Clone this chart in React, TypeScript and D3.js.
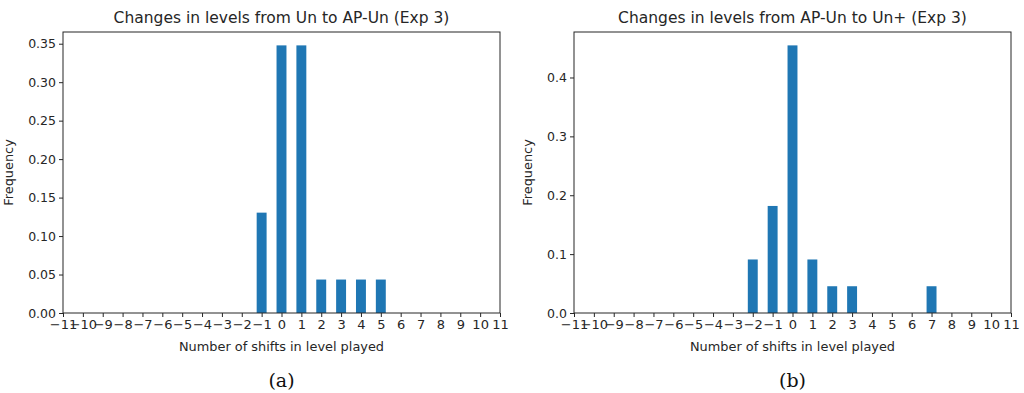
import { useEffect, useRef } from 'react';
import * as d3 from 'd3';

const shifts = d3.range(-11, 12);
const shiftsA = [-1, 0, 1, 2, 3, 4, 5];
const freqA = [3 / 23, 8 / 23, 8 / 23, 1 / 23, 1 / 23, 1 / 23, 1 / 23];
const shiftsB = [-2, -1, 0, 1, 2, 3, 7];
const freqB = [2 / 22, 4 / 22, 10 / 22, 2 / 22, 1 / 22, 1 / 22, 1 / 22];
const yTicksA = [0, 0.05, 0.1, 0.15, 0.2, 0.25, 0.3, 0.35];
const yTicksB = [0, 0.1, 0.2, 0.3, 0.4];

interface PanelSpec {
  title: string;
  caption: string;
  xs: number[];
  ys: number[];
  yTicks: number[];
  yFmt: string;
  left: number;
  ylabX: number;
}

const panels: PanelSpec[] = [
  { title: 'Changes in levels from Un to AP-Un (Exp 3)', caption: '(a)', xs: shiftsA, ys: freqA, yTicks: yTicksA, yFmt: '.2f', left: 63, ylabX: -50 },
  { title: 'Changes in levels from AP-Un to Un+ (Exp 3)', caption: '(b)', xs: shiftsB, ys: freqB, yTicks: yTicksB, yFmt: '.1f', left: 574, ylabX: -42 },
];

const App = () => {
  const ref = useRef<SVGSVGElement>(null);

  useEffect(() => {
    if (!ref.current) return;
    const root = d3.select(ref.current);
    root.selectAll('*').remove();
    const font = '"DejaVu Sans", sans-serif';
    const top = 32;
    const bottom = 313;
    const w = 437;
    const ink = '#262626';

    panels.forEach(p => {
      const g = root.append('g').attr('transform', `translate(${p.left},0)`);
      const x = d3.scaleLinear().domain([-11, 11]).range([0, w]);
      const yMax = (d3.max(p.ys) || 0) * 1.05;
      const y = d3.scaleLinear().domain([0, yMax]).range([bottom, top]);
      const bw = (x(1) - x(0)) * 0.5;

      // bars
      g.selectAll('.bar')
        .data(p.xs.map((s, i) => ({ s, v: p.ys[i] })))
        .enter()
        .append('rect')
        .attr('x', d => x(d.s) - bw / 2)
        .attr('y', d => y(d.v))
        .attr('width', bw)
        .attr('height', d => bottom - y(d.v))
        .attr('fill', '#1f77b4');

      // x axis
      const xa = g.append('g')
        .attr('transform', `translate(0,${bottom})`)
        .call(d3.axisBottom(x).tickValues(shifts).tickSize(4).tickPadding(3)
          .tickFormat(d => (d as number) < 0 ? `\u2212${Math.abs(d as number)}` : `${d}`));
      xa.selectAll('text').style('font-family', font).style('font-size', '13px').attr('fill', ink);
      xa.selectAll('line').attr('stroke', ink);
      xa.select('.domain').remove();

      // y axis
      const ya = g.append('g')
        .call(d3.axisLeft(y).tickValues(p.yTicks).tickSize(4).tickPadding(3).tickFormat(d3.format(p.yFmt)));
      ya.selectAll('text').style('font-family', font).style('font-size', '12.5px').attr('fill', ink);
      ya.selectAll('line').attr('stroke', ink);
      ya.select('.domain').remove();

      // frame
      g.append('rect')
        .attr('x', 0).attr('y', top).attr('width', w).attr('height', bottom - top)
        .attr('fill', 'none').attr('stroke', ink).attr('stroke-width', 1);

      g.append('text')
        .attr('x', w / 2).attr('y', 23)
        .attr('text-anchor', 'middle')
        .style('font-family', font).style('font-size', '15.5px').attr('fill', ink)
        .text(p.title);

      g.append('text')
        .attr('x', w / 2).attr('y', 351)
        .attr('text-anchor', 'middle')
        .style('font-family', font).style('font-size', '12.9px').attr('fill', ink)
        .text('Number of shifts in level played');

      g.append('text')
        .attr('transform', `translate(${p.ylabX},${(top + bottom) / 2}) rotate(-90)`)
        .attr('text-anchor', 'middle')
        .style('font-family', font).style('font-size', '12.9px').attr('fill', ink)
        .text('Frequency');

      g.append('text')
        .attr('x', w / 2).attr('y', 387)
        .attr('text-anchor', 'middle')
        .style('font-family', '"DejaVu Serif", "Liberation Serif", serif').style('font-size', '19px').attr('fill', '#111')
        .text(p.caption);
    });
  }, []);

  return (
    <svg ref={ref} width={1024} height={393}
      style={{ position: 'absolute', left: 0, top: 0, background: '#fff' }} />
  );
};

export default App;
